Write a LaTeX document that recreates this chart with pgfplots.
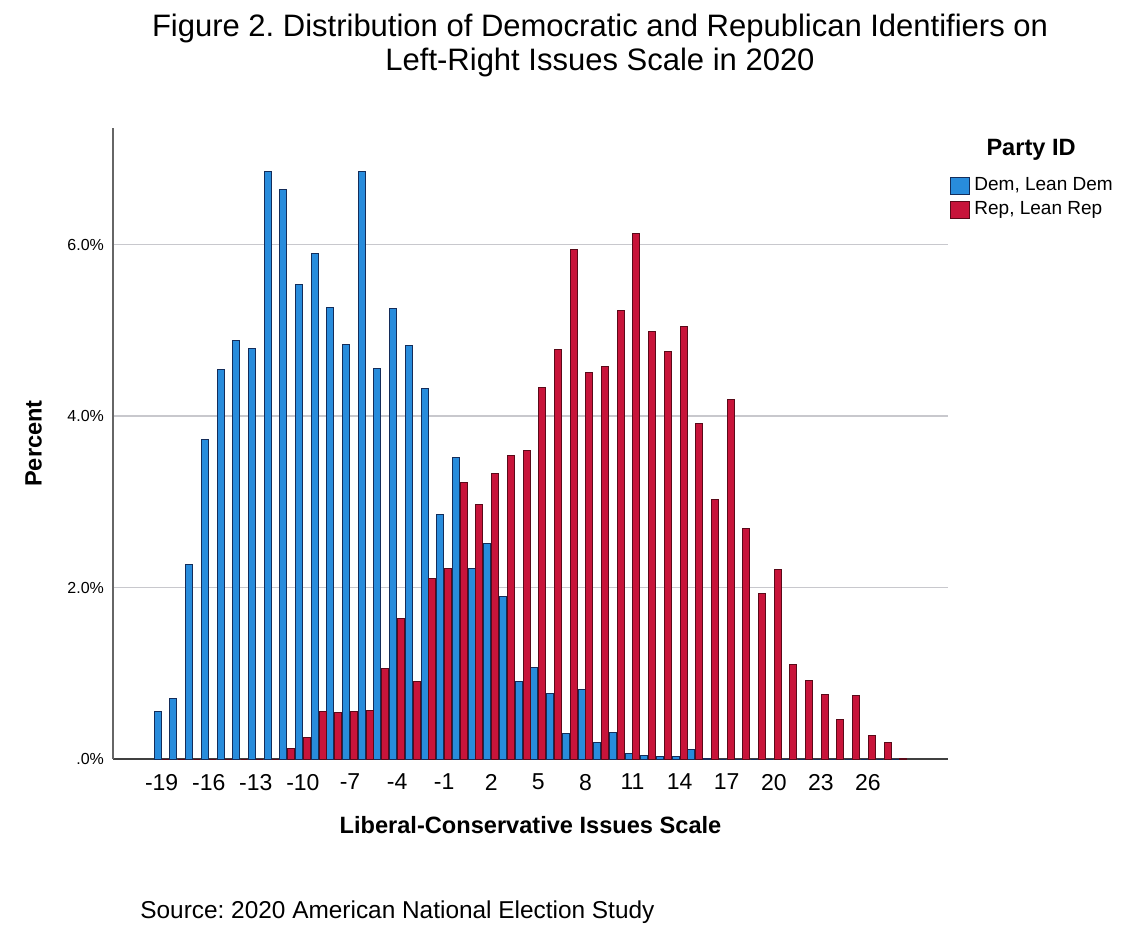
\documentclass[border=0pt]{standalone}
\usepackage{pgfplots}
\pgfplotsset{compat=1.18}
\usepackage{fontspec}
\setmainfont{Liberation Sans}
\frenchspacing
\definecolor{demblue}{RGB}{40,140,220}
\definecolor{demedge}{RGB}{20,45,90}
\definecolor{repred}{RGB}{200,20,58}
\definecolor{repedge}{RGB}{90,10,25}
\definecolor{gridgray}{RGB}{200,200,205}
\pgfplotstableread{
x y
-19 0.56
-18 0.71
-17 2.27
-16 3.73
-15 4.54
-14 4.88
-13 4.79
-12 6.85
-11 6.64
-10 5.53
-9 5.90
-8 5.27
-7 4.83
-6 6.85
-5 4.56
-4 5.26
-3 4.82
-2 4.32
-1 2.85
0 3.52
1 2.22
2 2.51
3 1.89
4 0.90
5 1.07
6 0.76
7 0.30
8 0.81
9 0.19
10 0.31
11 0.06
12 0.04
13 0.03
14 0.03
15 0.11
16 0.01
17 0
18 0
19 0
20 0
21 0
22 0
23 0
24 0
25 0
26 0
27 0
28 0
}\dem
\pgfplotstableread{
x y
-19 0
-18 0
-17 0
-16 0
-15 0
-14 0
-13 0
-12 0
-11 0.12
-10 0.25
-9 0.56
-8 0.54
-7 0.56
-6 0.57
-5 1.05
-4 1.64
-3 0.90
-2 2.11
-1 2.22
0 3.22
1 2.97
2 3.33
3 3.54
4 3.60
5 4.33
6 4.78
7 5.94
8 4.51
9 4.58
10 5.23
11 6.13
12 4.99
13 4.75
14 5.04
15 3.91
16 3.03
17 4.19
18 2.69
19 1.93
20 2.21
21 1.10
22 0.92
23 0.75
24 0.46
25 0.74
26 0.28
27 0.19
28 0.01
}\rep
\begin{document}
\begin{tikzpicture}
\begin{axis}[
  scale only axis,
  width=417.5pt, height=315.5pt,
  xmin=-22.1, xmax=31.1,
  ymin=0, ymax=7.36,
  ybar=0.4pt,
  bar width=3.5pt,
  axis x line*=bottom,
  axis y line*=left,
  axis line style={draw=gray!80!black, line width=0.8pt},
  x axis line style={draw=black!75},
  xtick={-19,-16,...,26},
  ytick={0,2,4,6},
  yticklabels={.0\%,2.0\%,4.0\%,6.0\%},
  major tick length=0pt,
  ymajorgrids,
  grid style={gridgray, line width=0.8pt},
  /pgf/number format/assume math mode=true,
  xticklabel style={font=\fontsize{11.5}{13}\selectfont, yshift=-4pt},
  yticklabel style={font=\fontsize{8}{9}\selectfont, xshift=-1pt},
  xlabel={\textbf{Liberal-Conservative Issues Scale}},
  xlabel style={font=\fontsize{11.8}{13}\selectfont, yshift=-6pt},
  ylabel={\textbf{Percent}},
  ylabel style={font=\fontsize{11.8}{13}\selectfont, yshift=6pt},
  legend cell align=left,
  legend style={draw=none, fill=none, at={(rel axis cs:1.0024,0.928)}, anchor=north west,
    font=\fontsize{9.5}{11}\selectfont, row sep=0pt, inner sep=0pt,
    /tikz/every even column/.append style={column sep=1pt}},
  legend image code/.code={\draw[#1] (0pt,-4.4pt) rectangle (9.5pt,4.4pt);},
  clip=false,
]
\addplot[fill=demblue, draw=demedge, line width=0.5pt] table[x=x,y=y] {\dem};
\addlegendentry{Dem, Lean Dem}
\addplot[fill=repred, draw=repedge, line width=0.5pt] table[x=x,y=y] {\rep};
\addlegendentry{Rep, Lean Rep}
\node[font=\bfseries\fontsize{11.8}{13}\selectfont] at (rel axis cs:1.0995,0.965) {Party ID};
\end{axis}
\node[align=center, font=\fontsize{15.5}{17}\selectfont] at ([xshift=243.5pt,yshift=41.5pt]current axis.north west)
  {Figure 2. Distribution of Democratic and Republican Identifiers on\\Left-Right Issues Scale in 2020};
\node[anchor=west, font=\fontsize{12.2}{14}\selectfont, inner sep=0pt] at ([xshift=13.5pt,yshift=-76.5pt]current axis.south west)
  {Source: 2020 American National Election Study};
\path ([xshift=-56.5pt,yshift=-89.5pt]current axis.south west) rectangle ([xshift=95pt,yshift=64pt]current axis.north east);
\end{tikzpicture}
\end{document}
